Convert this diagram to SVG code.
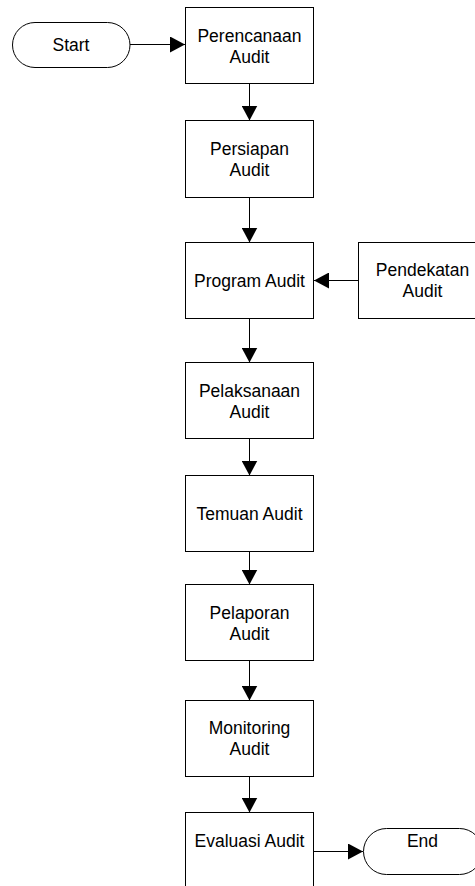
<svg xmlns="http://www.w3.org/2000/svg" width="475" height="886" viewBox="0 0 475 886">
<style>
.box{fill:#fff;stroke:#000;stroke-width:1}
.t{font-family:"Liberation Sans",Arial,sans-serif;font-size:17.5px;fill:#000;text-anchor:middle}
.c{fill:none;stroke:#000;stroke-width:1}
</style>
<defs>
<marker id="ah" markerUnits="userSpaceOnUse" markerWidth="16" markerHeight="16" refX="15" refY="8" orient="auto">
<path d="M0,0 L15,8 L0,16 Z" fill="#000"/>
</marker>
</defs>
<rect width="475" height="886" fill="#fff"/>
<g id="connectors">
<line class="c" x1="130" y1="44.5" x2="185" y2="44.5" marker-end="url(#ah)"/>
<line class="c" x1="249.5" y1="83.5" x2="249.5" y2="120.5" marker-end="url(#ah)"/>
<line class="c" x1="249.5" y1="197.5" x2="249.5" y2="242.5" marker-end="url(#ah)"/>
<line class="c" x1="358.5" y1="280.5" x2="314" y2="280.5" marker-end="url(#ah)"/>
<line class="c" x1="249.5" y1="318.5" x2="249.5" y2="362.5" marker-end="url(#ah)"/>
<line class="c" x1="249.5" y1="438.5" x2="249.5" y2="475.5" marker-end="url(#ah)"/>
<line class="c" x1="249.5" y1="551.5" x2="249.5" y2="584.5" marker-end="url(#ah)"/>
<line class="c" x1="249.5" y1="660.5" x2="249.5" y2="700.5" marker-end="url(#ah)"/>
<line class="c" x1="249.5" y1="776.5" x2="249.5" y2="812.5" marker-end="url(#ah)"/>
<line class="c" x1="313.5" y1="851.5" x2="363" y2="851.5" marker-end="url(#ah)"/>
</g>
<g id="start">
<rect class="box" x="12.5" y="22.5" width="117.5" height="45" rx="22.5"/>
<text class="t" x="71" y="51">Start</text>
</g>
<g id="perencanaan">
<rect class="box" x="185.5" y="7.5" width="128" height="76"/>
<text class="t" x="249.5" y="41.5">Perencanaan</text>
<text class="t" x="249.5" y="62.5">Audit</text>
</g>
<g id="persiapan">
<rect class="box" x="185.5" y="120.5" width="128" height="77"/>
<text class="t" x="249.5" y="155">Persiapan</text>
<text class="t" x="249.5" y="175.5">Audit</text>
</g>
<g id="program">
<rect class="box" x="185.5" y="242.5" width="128" height="76"/>
<text class="t" x="249.5" y="286.5">Program Audit</text>
</g>
<g id="pendekatan">
<rect class="box" x="358.5" y="242.5" width="128" height="76"/>
<text class="t" x="422.5" y="276">Pendekatan</text>
<text class="t" x="422.5" y="297">Audit</text>
</g>
<g id="pelaksanaan">
<rect class="box" x="185.5" y="362.5" width="128" height="76"/>
<text class="t" x="249.5" y="396.5">Pelaksanaan</text>
<text class="t" x="249.5" y="417.5">Audit</text>
</g>
<g id="temuan">
<rect class="box" x="185.5" y="475.5" width="128" height="76"/>
<text class="t" x="249.5" y="519.5">Temuan Audit</text>
</g>
<g id="pelaporan">
<rect class="box" x="185.5" y="584.5" width="128" height="76"/>
<text class="t" x="249.5" y="618.5">Pelaporan</text>
<text class="t" x="249.5" y="639.5">Audit</text>
</g>
<g id="monitoring">
<rect class="box" x="185.5" y="700.5" width="128" height="76"/>
<text class="t" x="249.5" y="733.5">Monitoring</text>
<text class="t" x="249.5" y="754.5">Audit</text>
</g>
<g id="evaluasi">
<rect class="box" x="185.5" y="812.5" width="128" height="76"/>
<text class="t" x="249.5" y="847">Evaluasi Audit</text>
</g>
<g id="end">
<rect class="box" x="363.5" y="828.5" width="119" height="46" rx="23"/>
<text class="t" x="422.5" y="847">End</text>
</g>
</svg>
